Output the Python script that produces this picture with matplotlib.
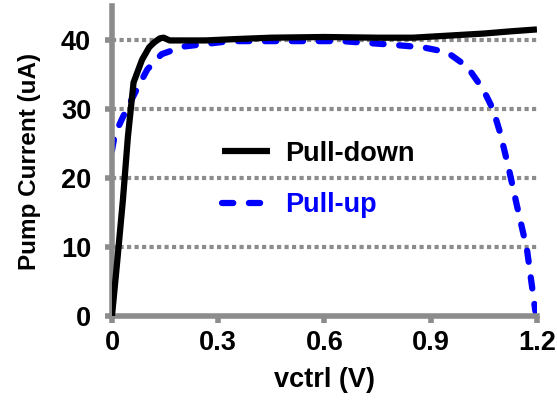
import numpy as np
import matplotlib.pyplot as plt

plt.rcParams['font.family'] = ['Liberation Sans', 'DejaVu Sans']
plt.rcParams['font.weight'] = 'bold'

# pull-down current (black solid)
vd = [0.0, 0.015, 0.031, 0.045, 0.061, 0.085, 0.105, 0.119, 0.135, 0.146, 0.163,
      0.2, 0.264, 0.35, 0.45, 0.6, 0.75, 0.85, 0.95, 1.05, 1.12, 1.2]
idn = [0.0, 8.0, 16.9, 26.0, 33.9, 37.2, 39.0, 39.7, 40.3, 40.4, 40.0,
       40.0, 40.0, 40.2, 40.4, 40.5, 40.4, 40.4, 40.7, 41.0, 41.3, 41.6]

# pull-up current (blue dashed)
vu = [0.0, 0.008, 0.031, 0.07, 0.10, 0.14, 0.2, 0.333, 0.48, 0.65, 0.785,
      0.878, 0.946, 1.003, 1.048, 1.076, 1.096, 1.12, 1.144, 1.172, 1.195, 1.2]
iup = [24.0, 26.3, 28.9, 32.9, 35.8, 38.0, 39.1, 39.9, 39.9, 39.9, 39.4,
       39.0, 38.3, 36.2, 32.9, 30.0, 26.6, 21.5, 15.9, 9.6, 0.9, 0.0]

xticks = [0, 0.3, 0.6, 0.9, 1.2]
xlabels = ['0', '0.3', '0.6', '0.9', '1.2']
yticks = [0, 10, 20, 30, 40]

fig = plt.figure(figsize=(5.57, 4.0), dpi=100)
ax = fig.add_axes([0.201, 0.21, 0.763, 0.775])

gray = '#8c8c8c'
for y in yticks[1:]:
    ax.axhline(y, color=gray, lw=3, ls=(0, (1, 0.8)), zorder=1)

ax.plot(vd, idn, color='black', lw=4.5, label='Pull-down', zorder=3,
        solid_capstyle='butt')
ax.plot(vu, iup, color='#0000ff', lw=4.5, ls=(0, (1.8, 2.5)), label='Pull-up',
        zorder=2, dash_capstyle='round')

ax.set_xlim(0, 1.2)
ax.set_ylim(0, 45)
ax.set_xticks(xticks)
ax.set_xticklabels(xlabels)
ax.set_yticks(yticks)

for s in ['top', 'right']:
    ax.spines[s].set_visible(False)
for s in ['left', 'bottom']:
    ax.spines[s].set_color(gray)
    ax.spines[s].set_linewidth(4)
ax.tick_params(colors=gray, width=4, length=5, labelsize=19.5, labelcolor='black')
ax.tick_params(axis='y', pad=10)
ax.tick_params(axis='x', pad=5)

ax.set_xlabel('vctrl (V)', fontsize=19.5, fontweight='bold', labelpad=8)
ax.set_ylabel('Pump Current (uA)', fontsize=17.5, fontweight='bold', labelpad=14)

leg = ax.legend(loc='center', bbox_to_anchor=(0.485, 0.44), frameon=False,
                fontsize=19.5, handlelength=1.8, labelspacing=0.95,
                handletextpad=0.55)
leg.get_texts()[1].set_color('#0000ff')
for t in leg.get_texts():
    t.set_fontweight('bold')

fig.savefig('out.png', dpi=100)
